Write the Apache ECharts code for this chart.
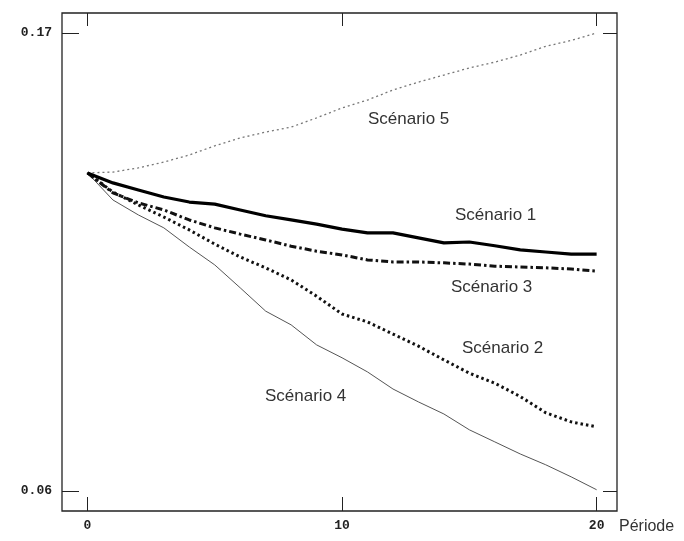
<!DOCTYPE html>
<html>
<head>
<meta charset="utf-8">
<script src="https://cdn.jsdelivr.net/npm/echarts@6/dist/echarts.min.js"></script>
<style>
  html, body { margin: 0; padding: 0; background: #fff; }
  #container { width: 684px; height: 541px; }
</style>
</head>
<body>
<div id="container"></div>
<script>
var dom = document.getElementById('container');
var myChart = echarts.init(dom, null, { renderer: 'canvas' });

// periods 0..20
let periods = [];
for (let i = 0; i <= 20; i++) periods.push(i);

// values
let scenario1 = [0.1364, 0.1340, 0.1323, 0.1306, 0.1294, 0.1289, 0.1275, 0.1261, 0.1251, 0.1241, 0.1229,
                 0.1220, 0.1220, 0.1208, 0.1196, 0.1198, 0.1189, 0.1179, 0.1174, 0.1169, 0.1169];
let scenario2 = [0.1364, 0.1318, 0.1287, 0.1258, 0.1227, 0.1193, 0.1162, 0.1136, 0.1107, 0.1068, 0.1025,
                 0.1006, 0.0977, 0.0948, 0.0915, 0.0883, 0.0859, 0.0827, 0.0788, 0.0766, 0.0754];
let scenario3 = [0.1364, 0.1316, 0.1292, 0.1275, 0.1251, 0.1232, 0.1217, 0.1203, 0.1188, 0.1176, 0.1167,
                 0.1155, 0.1150, 0.1150, 0.1148, 0.1145, 0.1140, 0.1138, 0.1136, 0.1133, 0.1128];
let scenario4 = [0.1364, 0.1299, 0.1263, 0.1232, 0.1186, 0.1143, 0.1088, 0.1032, 0.0999, 0.0951, 0.0920,
                 0.0886, 0.0845, 0.0814, 0.0785, 0.0747, 0.0718, 0.0689, 0.0663, 0.0634, 0.0603];
let scenario5 = [0.1364, 0.1366, 0.1376, 0.1390, 0.1407, 0.1429, 0.1448, 0.1462, 0.1474, 0.1496, 0.1520,
                 0.1539, 0.1563, 0.1582, 0.1599, 0.1616, 0.1630, 0.1647, 0.1668, 0.1682, 0.1700];

let xTicks = [0, 10, 20];
let yTicks = [0.06, 0.17];

function pairs(vals) {
    return periods.map(function (p, i) { return [p, vals[i]]; });
}

var tickFont = {
    fontFamily: 'Liberation Mono',
    fontWeight: 'bold',
    fontSize: 13,
    color: '#222'
};
var labelFont = {
    fontFamily: 'Liberation Sans',
    fontSize: 17,
    fill: '#333'
};

var option = {
    backgroundColor: '#fff',
    animation: false,
    grid: {
        left: 62, right: 67, top: 13, bottom: 30,
        show: true, borderColor: '#222', borderWidth: 1.3
    },
    xAxis: [
        {
            type: 'value', position: 'bottom', min: -1, max: 20.8,
            splitLine: { show: false },
            axisLine: { show: false, onZero: false },
            axisTick: { inside: true, length: 14, customValues: xTicks, lineStyle: { color: '#222' } },
            axisLabel: Object.assign({ customValues: xTicks, margin: 8 }, tickFont),
            name: 'Période', nameLocation: 'end', nameGap: 2,
            nameTextStyle: { fontFamily: 'Liberation Sans', fontSize: 16, color: '#333',
                             align: 'left', verticalAlign: 'top', padding: [8, 0, 0, 0] }
        },
        {
            type: 'value', position: 'top', min: -1, max: 20.8,
            splitLine: { show: false },
            axisLine: { show: false, onZero: false },
            axisTick: { inside: true, length: 13, customValues: xTicks, lineStyle: { color: '#222' } },
            axisLabel: { show: false }
        }
    ],
    yAxis: [
        {
            type: 'value', position: 'left', min: 0.0552, max: 0.1748,
            splitLine: { show: false },
            axisLine: { show: false, onZero: false },
            axisTick: { inside: true, length: 17, customValues: yTicks, lineStyle: { color: '#222' } },
            axisLabel: Object.assign({
                customValues: yTicks, margin: 10,
                formatter: function (v) { return v.toFixed(2); }
            }, tickFont)
        },
        {
            type: 'value', position: 'right', min: 0.0552, max: 0.1748,
            splitLine: { show: false },
            axisLine: { show: false, onZero: false },
            axisTick: { inside: true, length: 14, customValues: yTicks, lineStyle: { color: '#222' } },
            axisLabel: { show: false }
        }
    ],
    series: [
        {
            name: 'Scénario 5', type: 'line', symbol: 'none', data: pairs(scenario5),
            lineStyle: { color: '#777', width: 1.3, type: [2, 3] }
        },
        {
            name: 'Scénario 4', type: 'line', symbol: 'none', data: pairs(scenario4),
            lineStyle: { color: '#555', width: 1 }
        },
        {
            name: 'Scénario 2', type: 'line', symbol: 'none', data: pairs(scenario2),
            lineStyle: { color: '#111', width: 3, type: [2.5, 3] }
        },
        {
            name: 'Scénario 3', type: 'line', symbol: 'none', data: pairs(scenario3),
            lineStyle: { color: '#111', width: 3, type: [7, 3, 2.5, 3] }
        },
        {
            name: 'Scénario 1', type: 'line', symbol: 'none', data: pairs(scenario1),
            lineStyle: { color: '#000', width: 3.2 }
        }
    ],
    graphic: [
        { type: 'text', left: 368, top: 111, style: Object.assign({ text: 'Scénario 5' }, labelFont) },
        { type: 'text', left: 455, top: 207, style: Object.assign({ text: 'Scénario 1' }, labelFont) },
        { type: 'text', left: 451, top: 279, style: Object.assign({ text: 'Scénario 3' }, labelFont) },
        { type: 'text', left: 462, top: 340, style: Object.assign({ text: 'Scénario 2' }, labelFont) },
        { type: 'text', left: 265, top: 388, style: Object.assign({ text: 'Scénario 4' }, labelFont) }
    ]
};

myChart.setOption(option);
window.addEventListener('resize', myChart.resize);
</script>
</body>
</html>
